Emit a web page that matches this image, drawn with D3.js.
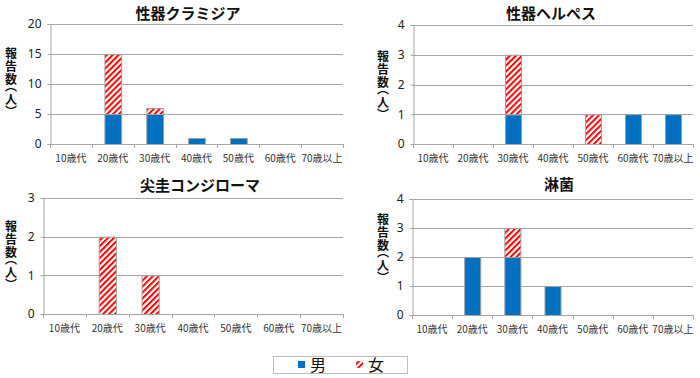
<!DOCTYPE html>
<html><head><meta charset="utf-8">
<script src="https://cdn.jsdelivr.net/npm/d3@7/dist/d3.min.js"></script>
<style>
body{margin:0;background:#fff;}
svg{display:block;font-family:"Noto Sans CJK JP","Noto Sans",sans-serif;}
</style></head>
<body>
<svg id="c" width="700" height="378"></svg>
<script>
const categories = ["10歳代","20歳代","30歳代","40歳代","50歳代","60歳代","70歳以上"];
const titles = ["性器クラミジア","性器ヘルペス","尖圭コンジローマ","淋菌"];
const maleChlamydia = [0,5,5,1,1,0,0];
const femaleChlamydia = [0,10,1,0,0,0,0];
const maleHerpes = [0,0,1,0,0,1,1];
const femaleHerpes = [0,0,2,0,1,0,0];
const maleCondyloma = [0,0,0,0,0,0,0];
const femaleCondyloma = [0,2,1,0,0,0,0];
const maleGonorrhea = [0,2,2,1,0,0,0];
const femaleGonorrhea = [0,0,1,0,0,0,0];
const yMaxes = [20,4,3,4];
const yTickSteps = [5,1,1,1];
const yLabel = "報告数（人）";
const legendLabels = ["男","女"];

const BLUE = "#0070C0", RED = "#FF0000", GRID = "#a6a6a6";
const svg = d3.select("#c");
const defs = svg.append("defs");
const pat = defs.append("pattern").attr("id","hatch").attr("patternUnits","userSpaceOnUse")
  .attr("width",4.2).attr("height",4.2).attr("patternTransform","rotate(45)");
pat.append("rect").attr("width",4.2).attr("height",4.2).attr("fill","#fff");
pat.append("rect").attr("width",2).attr("height",4.2).attr("fill",RED);

const layouts = [
  {x0:50,x1:343,y0:24,y1:144,tx:188,ty:19,lx:11,ly:47},
  {x0:413,x1:693,y0:25,y1:144,tx:551,ty:19,lx:383,ly:50},
  {x0:43,x1:343,y0:198,y1:314,tx:200,ty:191,lx:11,ly:220},
  {x0:412,x1:693,y0:199,y1:315,tx:559,ty:190,lx:383,ly:213}
];
const series = [
  [maleChlamydia,femaleChlamydia],
  [maleHerpes,femaleHerpes],
  [maleCondyloma,femaleCondyloma],
  [maleGonorrhea,femaleGonorrhea]
];
const LFS = 12;

series.forEach((s,i)=>{
  const L = layouts[i];
  const g = svg.append("g");
  const x = d3.scaleBand().domain(categories).range([L.x0,L.x1]).paddingInner(0.6).paddingOuter(0.3);
  const y = d3.scaleLinear().domain([0,yMaxes[i]]).range([L.y1,L.y0]);
  const ticks = d3.range(0,yMaxes[i]+0.001,yTickSteps[i]);
  g.selectAll(".grid").data(ticks.filter(t=>t>0)).join("line")
    .attr("x1",L.x0).attr("x2",L.x1).attr("y1",d=>Math.round(y(d))+0.5).attr("y2",d=>Math.round(y(d))+0.5)
    .attr("stroke",GRID).attr("stroke-width",1);
  const ya = g.append("g").attr("transform",`translate(${L.x0+0.5},0)`)
    .call(d3.axisLeft(y).tickValues(ticks).tickSize(3).tickPadding(6).tickFormat(d3.format("d")));
  ya.select(".domain").attr("stroke",GRID);
  ya.selectAll(".tick line").attr("stroke",GRID);
  ya.selectAll("text").attr("font-size",12).attr("fill","#222").attr("font-family","'Noto Sans','DejaVu Sans',sans-serif");
  const data = categories.map((c,j)=>({cat:c,male:s[0][j],female:s[1][j]}));
  const stack = d3.stack().keys(["male","female"])(data);
  stack.forEach((layer,k)=>{
    g.selectAll(".b"+k).data(layer.filter(d=>d[1]-d[0]>0)).join("rect")
      .attr("x",d=>x(d.data.cat)+0.5).attr("width",x.bandwidth())
      .attr("y",d=>y(d[1])+0.5).attr("height",d=>y(d[0])-y(d[1]))
      .attr("fill",k===0?BLUE:"url(#hatch)").attr("stroke","#a0a0a0").attr("stroke-width",1);
  });
  g.append("line").attr("x1",L.x0).attr("x2",L.x1).attr("y1",L.y1+0.5).attr("y2",L.y1+0.5).attr("stroke",GRID);
  const bounds = d3.range(categories.length+1).map(j=>L.x0+j*(L.x1-L.x0)/categories.length);
  g.selectAll(".xt").data(bounds).join("line")
    .attr("x1",d=>Math.round(d)+0.5).attr("x2",d=>Math.round(d)+0.5).attr("y1",L.y1).attr("y2",L.y1+4).attr("stroke",GRID);
  g.selectAll(".xl").data(categories).join("text")
    .attr("x",d=>x(d)+x.bandwidth()/2).attr("y",L.y1+18).attr("text-anchor","middle")
    .attr("font-size",10).attr("fill","#333").text(d=>d);
  g.append("text").attr("x",L.tx).attr("y",L.ty).attr("text-anchor","middle")
    .attr("font-size",15).attr("font-weight","bold").attr("fill","#111").text(titles[i]);
  // y label as vertical text
  g.append("text").attr("x",L.lx).attr("y",L.ly)
    .style("writing-mode","vertical-rl").style("font-feature-settings","'vpal'")
    .style("letter-spacing","1px")
    .attr("font-size",LFS).attr("font-weight","bold").attr("fill","#111").text(yLabel);
});

const lg = svg.append("g");
lg.append("rect").attr("x",273.5).attr("y",356.5).attr("width",134).attr("height",17).attr("fill","#fff").attr("stroke","#bfbfbf");
const lx = d3.scalePoint().domain(legendLabels).range([298,356]);
lg.selectAll(".sw").data(legendLabels).join("rect")
  .attr("x",d=>lx(d)).attr("y",361).attr("width",7).attr("height",7)
  .attr("fill",(d,k)=>k===0?BLUE:"url(#hatch)");
lg.selectAll(".lt").data(legendLabels).join("text")
  .attr("x",d=>lx(d)+12).attr("y",371).attr("font-size",16).attr("fill","#111").text(d=>d);
</script>
</body></html>
